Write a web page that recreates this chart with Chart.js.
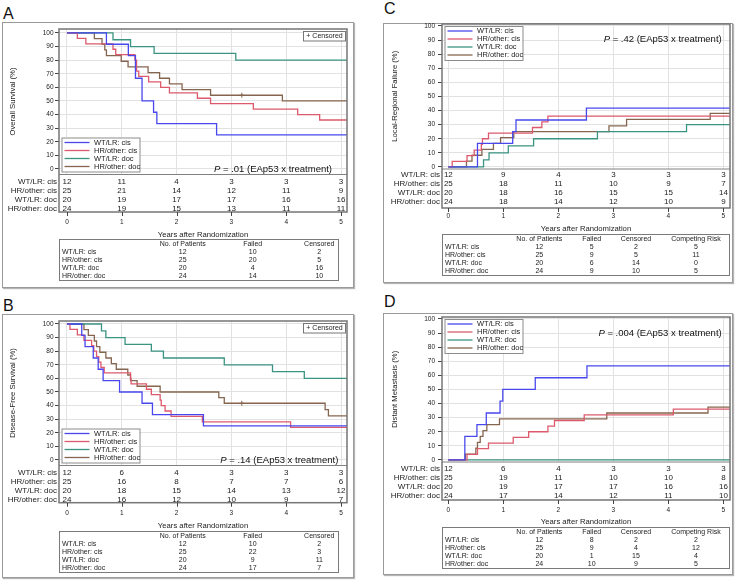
<!DOCTYPE html>
<html>
<head>
<meta charset="utf-8">
<script src="https://cdn.jsdelivr.net/npm/chart.js@4.4.1/dist/chart.umd.min.js"></script>
<style>
  body { margin: 0; background: #fff; font-family: 'Liberation Sans', Arial, sans-serif; }
  #page { position: relative; width: 738px; height: 580px; overflow: hidden; }
  .panel { position: absolute; box-sizing: border-box; border: 1px solid #9a9a9a; box-shadow: 1px 1px 1px #b5b5b5; }
  .letter { position: absolute; font-size: 16px; line-height: 16px; color: #111; }
  canvas { position: absolute; }
  .tbl { position: absolute; box-sizing: border-box; border: 1px solid #7a7a7a; font-size: 7px; color: #222; will-change: transform; }
  .tbl span { position: absolute; white-space: nowrap; transform: translate(-50%, -50%); line-height: 8px; }
  .tbl span.lab { transform: translate(0, -50%); }
</style>
</head>
<body>
<div id="page">
  <div class="panel" style="left:2px;top:22px;width:352px;height:266px"></div>
  <div class="panel" style="left:2px;top:314px;width:352px;height:264px"></div>
  <div class="panel" style="left:383px;top:23px;width:350px;height:260px"></div>
  <div class="panel" style="left:383px;top:313px;width:350px;height:262px"></div>
  <div class="letter" style="left:3px;top:6px">A</div>
  <div class="letter" style="left:3px;top:298px">B</div>
  <div class="letter" style="left:384px;top:1px">C</div>
  <div class="letter" style="left:384px;top:294px">D</div>
  <canvas id="chartA" width="349" height="225" style="left:3px;top:15px"></canvas>
  <canvas id="chartB" width="349" height="224" style="left:3px;top:307px"></canvas>
  <canvas id="chartC" width="347" height="224" style="left:384px;top:10px"></canvas>
  <canvas id="chartD" width="347" height="224" style="left:384px;top:303px"></canvas>
</div>
<script>
const FONT = "'Liberation Sans', Arial, sans-serif";

const groups = ['WT/LR: cis', 'HR/other: cis', 'WT/LR: doc', 'HR/other: doc'];
const groupColors = ['#4848ee', '#dc5a6c', '#3b9482', '#86654f'];
const yearTicks = [0, 1, 2, 3, 4, 5];
const pctTicks = [0, 10, 20, 30, 40, 50, 60, 70, 80, 90, 100];

// A - overall survival
const osWtCis = [[0,100],[0.72,91.7],[1.12,83.3],[1.25,66.7],[1.37,50],[1.58,41.7],[1.64,33.3],[2.73,25],[5.11,25]];
const osHrCis = [[0,100],[0.19,96],[0.345,92],[0.84,88],[0.89,84],[1.24,80],[1.27,72],[1.31,68],[1.49,64],[1.71,60],[1.87,56],[2.38,52],[2.62,48],[3.40,44],[4.21,40],[4.61,36],[5.11,36]];
const osWtDoc = [[0,100],[0.84,95],[1.16,90],[1.59,85],[3.08,80],[5.11,80]];
const osHrDoc = [[0,100],[0.50,95.8],[0.64,91.7],[0.69,87.5],[0.72,83.3],[0.99,79.2],[1.115,75],[1.48,70.8],[1.69,66.7],[1.87,62.5],[2.10,58.3],[2.62,54.2],[3.93,50],[5.11,50]];
const osCensored = [[3.19,54.2]];
const osAtRisk = [[12,11,4,3,3,3],[25,21,14,12,11,9],[20,19,17,17,16,16],[24,19,15,13,11,11]];
const osSummary = [[12,10,2],[25,20,5],[20,4,16],[24,14,10]];

// B - disease-free survival
const dfsWtCis = [[0,100],[0.27,91.7],[0.33,83.3],[0.48,75],[0.57,66.7],[0.66,58.3],[0.96,50],[1.37,41.7],[1.56,33.3],[2.49,25],[5.11,25]];
const dfsHrCis = [[0,100],[0.055,96],[0.19,92],[0.31,88],[0.45,84],[0.49,80],[0.54,76],[0.58,72],[0.62,68],[0.68,64],[1.16,60],[1.17,56],[1.45,52],[1.54,48],[1.70,44],[1.72,40],[1.79,36],[1.90,32],[2.47,28],[4.08,24],[5.11,24]];
const dfsWtDoc = [[0,100],[0.63,95],[0.71,90],[1.06,85],[1.54,80],[1.76,75],[2.87,70],[3.75,65],[4.33,60],[5.11,60]];
const dfsHrDoc = [[0,100],[0.31,95.8],[0.39,91.7],[0.50,87.5],[0.54,83.3],[0.60,79.2],[0.71,75],[0.81,70.8],[0.90,66.7],[1.11,62.5],[1.16,58.3],[1.28,54.2],[1.70,50],[2.77,45.8],[2.87,41.7],[4.71,37],[4.77,32.4],[5.11,32.4]];
const dfsCensored = [[3.19,41.7]];
const dfsAtRisk = [[12,6,4,3,3,3],[25,16,8,7,7,6],[20,18,15,14,13,12],[24,16,12,10,9,7]];
const dfsSummary = [[12,10,2],[25,22,3],[20,9,11],[24,17,7]];

// C - local-regional failure
const lrfWtCis = [[0,0],[0.53,16.7],[1.17,25],[1.23,33.3],[2.51,41.7],[5.12,41.7]];
const lrfHrCis = [[0,0],[0.07,4],[0.34,8],[0.47,12],[0.60,16],[0.62,20],[0.73,24],[1.53,28],[1.70,32],[1.81,36],[5.12,36]];
const lrfWtDoc = [[0,0],[0.64,5],[0.74,10],[1.09,15],[1.55,20],[2.71,25],[4.33,30],[5.12,30]];
const lrfHrDoc = [[0,0],[0.33,4.2],[0.43,8.3],[0.61,12.5],[0.82,16.7],[0.95,20.8],[1.19,25],[2.92,29.2],[3.24,33.8],[4.76,38],[5.12,38]];
const lrfAtRisk = [[12,9,4,3,3,3],[25,18,11,10,9,7],[20,18,16,15,15,14],[24,18,14,12,10,9]];
const lrfSummary = [[12,5,2,5],[25,9,5,11],[20,6,14,0],[24,9,10,5]];

// D - distant metastasis
const dmWtCis = [[0,0],[0.30,16.7],[0.52,25],[0.69,33.3],[0.94,41.7],[0.99,50],[1.58,58.3],[2.52,66.7],[5.12,66.7]];
const dmHrCis = [[0,0],[0.34,4],[0.53,8],[0.73,12],[1.18,16],[1.46,20],[1.81,24],[1.93,28],[2.47,32],[4.09,36],[5.12,36]];
const dmWtDoc = [[0,0],[5.12,0]];
const dmHrDoc = [[0,0],[0.31,4.2],[0.50,8.3],[0.53,12.5],[0.58,16.7],[0.63,20.8],[0.70,25],[0.93,29.2],[2.88,33.3],[4.72,37.5],[5.12,37.5]];
const dmAtRisk = [[12,6,4,3,3,3],[25,19,11,10,10,8],[20,19,17,17,16,16],[24,17,14,12,11,10]];
const dmSummary = [[12,8,2,2],[25,9,4,12],[20,1,15,4],[24,10,9,5]];

const summaryHead = ['No. of Patients', 'Failed', 'Censored'];
const summaryHeadCr = ['No. of Patients', 'Failed', 'Censored', 'Competing Risk'];

// frame, risk table, legend, p value and censor key drawn around the plot
const kmExtras = {
  id: 'kmExtras',
  afterDraw(chart, args, o) {
    const ctx = chart.ctx, a = chart.chartArea, xs = chart.scales.x;
    const fb = a.bottom + o.riskHeight;
    ctx.save();
    ctx.strokeStyle = '#808080';
    ctx.lineWidth = 1;
    ctx.beginPath(); ctx.moveTo(a.left, a.bottom + 0.5); ctx.lineTo(a.right, a.bottom + 0.5); ctx.stroke();
    ctx.strokeStyle = '#767676';
    ctx.lineWidth = 1.5;
    ctx.strokeRect(a.left, a.top, a.right - a.left, fb - a.top);
    ctx.strokeStyle = '#444';
    ctx.lineWidth = 1;
    yearTicks.forEach(v => {
      const px = Math.round(xs.getPixelForValue(v)) + 0.5;
      ctx.beginPath(); ctx.moveTo(px, fb); ctx.lineTo(px, fb + 4); ctx.stroke();
    });

    // numbers at risk
    ctx.fillStyle = '#222';
    ctx.textBaseline = 'middle';
    ctx.font = '8px ' + FONT;
    o.atRisk.forEach((row, i) => {
      const ry = a.bottom + o.riskTop + i * 8.9;
      ctx.textAlign = 'right';
      ctx.fillText(groups[i], a.left - 2, ry);
      ctx.textAlign = 'center';
      row.forEach((n, j) => ctx.fillText(String(n), xs.getPixelForValue(yearTicks[j]), ry));
    });

    // legend
    const lx = a.left + 2.5, lw = 78, lh = 34;
    const ly = o.legendAtTop ? a.top + 2 : a.bottom - 2.5 - lh;
    ctx.fillStyle = '#fff';
    ctx.fillRect(lx, ly, lw, lh);
    ctx.strokeStyle = '#8c8c8c';
    ctx.strokeRect(lx + 0.5, ly + 0.5, lw, lh);
    ctx.font = '7.5px ' + FONT;
    ctx.textAlign = 'left';
    groups.forEach((g, i) => {
      const ry = ly + 5 + i * 8;
      ctx.strokeStyle = groupColors[i];
      ctx.lineWidth = 1.3;
      ctx.beginPath(); ctx.moveTo(lx + 3, ry); ctx.lineTo(lx + 28, ry); ctx.stroke();
      ctx.fillStyle = '#222';
      ctx.fillText(g, lx + 32.5, ry);
    });

    // censor key
    if (o.censorBox) {
      const bw = 42, bh = 9.5, bx = a.right - 2 - bw, by = a.top + 2;
      ctx.fillStyle = '#fff';
      ctx.fillRect(bx, by, bw, bh);
      ctx.strokeStyle = '#777';
      ctx.lineWidth = 1;
      ctx.strokeRect(bx + 0.5, by + 0.5, bw, bh);
      ctx.fillStyle = '#222';
      ctx.font = '7px ' + FONT;
      ctx.textAlign = 'center';
      ctx.fillText('+ Censored', bx + bw / 2 + 0.5, by + bh / 2 + 0.5);
    }

    // interaction p value
    ctx.font = '9.5px ' + FONT;
    const rest = ' = ' + o.pText + ' (EAp53 x treatment)';
    const wRest = ctx.measureText(rest).width;
    ctx.font = 'italic 9.5px ' + FONT;
    const wP = ctx.measureText('P').width;
    const px0 = a.right - o.pRight - wRest - wP;
    const py0 = o.pAtTop ? a.top + o.pOff : a.bottom - o.pOff;
    ctx.textAlign = 'left';
    ctx.fillStyle = '#111';
    ctx.fillText('P', px0, py0);
    ctx.font = '9.5px ' + FONT;
    ctx.fillText(rest, px0 + wP, py0);
    ctx.restore();
  }
};

function makePanel(id, series, censored, yTitle, lay, extras) {
  const datasets = series.map((pts, i) => ({
    label: groups[i],
    data: pts.map(p => ({ x: p[0], y: p[1] })),
    borderColor: groupColors[i],
    borderWidth: 1.3,
    stepped: true,
    pointRadius: 0,
    fill: false
  }));
  if (censored) {
    datasets.push({
      label: 'Censored',
      data: censored.map(p => ({ x: p[0], y: p[1] })),
      showLine: false,
      pointStyle: 'cross',
      pointRadius: 2.5,
      borderColor: groupColors[3],
      borderWidth: 1
    });
  }
  new Chart(document.getElementById(id), {
    type: 'line',
    data: { datasets },
    plugins: [kmExtras],
    options: {
      responsive: false,
      animation: false,
      devicePixelRatio: 1,
      layout: { padding: lay.pad },
      plugins: { legend: { display: false }, tooltip: { enabled: false }, kmExtras: extras },
      scales: {
        x: {
          type: 'linear',
          min: lay.xMin, max: lay.xMax,
          afterBuildTicks: s => { s.ticks = yearTicks.map(v => ({ value: v })); },
          afterFit: s => { s.height = lay.xH; },
          // invisible long tick marks push the year labels below the risk table
          grid: { color: '#e2e2e2', drawTicks: true, tickLength: lay.xTickPad, tickColor: 'rgba(0,0,0,0)' },
          border: { display: false },
          ticks: { padding: 0, autoSkip: false, maxRotation: 0, color: '#222', font: { size: 6.5, family: FONT } },
          title: { display: true, text: 'Years after Randomization', color: '#222', font: { size: 7.7, family: FONT }, padding: { top: 0, bottom: 0 } }
        },
        y: {
          type: 'linear',
          min: lay.yMin, max: lay.yMax,
          afterBuildTicks: s => { s.ticks = pctTicks.map(v => ({ value: v })); },
          afterFit: s => { s.width = lay.yW; },
          grid: { color: '#e2e2e2', tickLength: 4, tickColor: '#444' },
          border: { display: false },
          ticks: { padding: lay.yTickPad, color: '#222', font: { size: 6.5, family: FONT } },
          title: { display: true, text: yTitle, color: '#222', font: { size: 7.7, family: FONT }, padding: { top: lay.yTitlePad, bottom: 0 } }
        }
      }
    }
  });
}

function makeTable(left, top, width, head, centers, rows) {
  const t = document.createElement('div');
  t.className = 'tbl';
  t.style.cssText = `left:${left}px;top:${top}px;width:${width}px;height:42px`;
  let html = '';
  head.forEach((h, j) => { html += `<span style="left:${centers[j]}px;top:3.5px">${h}</span>`; });
  rows.forEach((r, i) => {
    const y = 11.6 + i * 8;
    html += `<span class="lab" style="left:2px;top:${y}px">${groups[i]}</span>`;
    r.forEach((v, j) => { html += `<span style="left:${centers[j]}px;top:${y}px">${v}</span>`; });
  });
  t.innerHTML = html;
  document.getElementById('page').appendChild(t);
}

const layLeft = { pad: { left: 0, top: 14, right: 4, bottom: 0 }, yW: 56, xH: 66, xMin: -0.145, xMax: 5.109, yTickPad: 1.5, yTitlePad: 5.4, xTickPad: 44.1 };
const layRight = { pad: { left: 0, top: 14, right: 1, bottom: 0 }, yW: 58, xH: 65.5, xMin: -0.115, xMax: 5.12, yTickPad: 3, yTitlePad: 6.4 };

makePanel('chartA', [osWtCis, osHrCis, osWtDoc, osHrDoc], osCensored, 'Overall Survival (%)',
  Object.assign({}, layLeft, { yMin: -3.7, yMax: 102.9 }),
  { atRisk: osAtRisk, riskTop: 7.7, riskHeight: 38, legendAtTop: false, censorBox: true, pText: '.01', pRight: 15, pAtTop: false, pOff: 5 });

makePanel('chartB', [dfsWtCis, dfsHrCis, dfsWtDoc, dfsHrDoc], dfsCensored, 'Disease-Free Survival (%)',
  Object.assign({}, layLeft, { yMin: -3.7, yMax: 102.2 }),
  { atRisk: dfsAtRisk, riskTop: 7.7, riskHeight: 37.7, legendAtTop: false, censorBox: true, pText: '.14', pRight: 8.7, pAtTop: false, pOff: 5 });

makePanel('chartC', [lrfWtCis, lrfHrCis, lrfWtDoc, lrfHrDoc], null, 'Local-Regional Failure (%)',
  Object.assign({}, layRight, { yMin: -1.1, yMax: 101.4, xTickPad: 43.6 }),
  { atRisk: lrfAtRisk, riskTop: 6.6, riskHeight: 39.5, legendAtTop: true, censorBox: false, pText: '.42', pRight: 8.3, pAtTop: true, pOff: 15 });

makePanel('chartD', [dmWtCis, dmHrCis, dmWtDoc, dmHrDoc], null, 'Distant Metastasis (%)',
  Object.assign({}, layRight, { yMin: -1.1, yMax: 101.4, xTickPad: 44.6 }),
  { atRisk: dmAtRisk, riskTop: 7.5, riskHeight: 38.5, legendAtTop: true, censorBox: false, pText: '.004', pRight: 8.3, pAtTop: true, pOff: 16.3 });

makeTable(59, 239, 280, summaryHead, [122.7, 192.7, 259.3], osSummary);
makeTable(59, 531, 280, summaryHead, [122.7, 192.7, 259.3], dfsSummary);
makeTable(442, 234, 288, summaryHeadCr, [96.3, 148.7, 193, 253], lrfSummary);
makeTable(442, 527, 288, summaryHeadCr, [96.3, 148.7, 193, 253], dmSummary);
</script>
</body>
</html>
